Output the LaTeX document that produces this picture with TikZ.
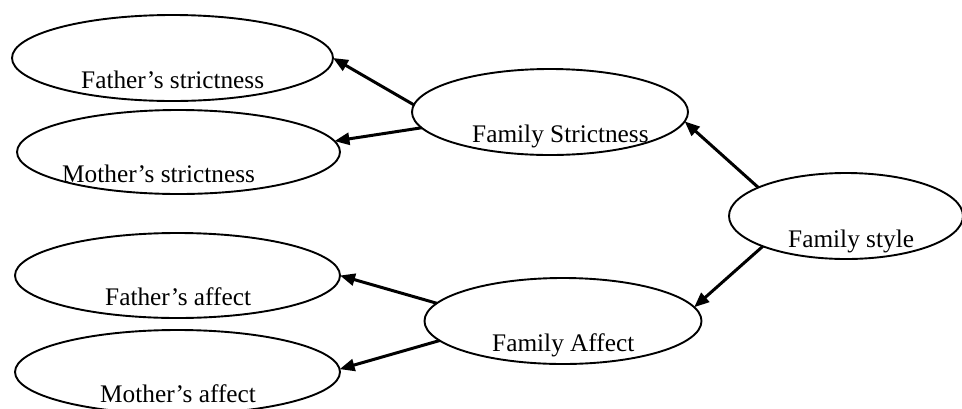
\documentclass[tikz,border=0pt]{standalone}
\usepackage{fontspec}
\setmainfont{Liberation Serif}
\usetikzlibrary{shapes.geometric,arrows.meta}
\begin{document}
\begin{tikzpicture}[x=1pt,y=-1pt,
  ell/.style={draw=black,line width=1.9pt,ellipse,inner sep=0pt,outer sep=0pt},
  lbl/.style={anchor=base west,inner sep=0pt,font=\fontsize{25.3}{30}\selectfont},
  arr/.style={line width=3pt,-{Triangle[length=15pt,width=12pt]}}]
\useasboundingbox (0,0) rectangle (962,408);
\fill[white] (0,0) rectangle (962,408);
% ellipses
\node[ell,minimum width=321pt,minimum height=86pt] (fst) at (172.5,58) {};
\node[ell,minimum width=323pt,minimum height=84pt] (mst) at (178.5,152) {};
\node[ell,minimum width=276pt,minimum height=86pt] (fs) at (550,112) {};
\node[ell,minimum width=234pt,minimum height=86pt] (fsty) at (846,216) {};
\node[ell,minimum width=325pt,minimum height=85pt] (ffa) at (177.5,275.5) {};
\node[ell,minimum width=325pt,minimum height=84pt] (mfa) at (177.5,372) {};
\node[ell,minimum width=277pt,minimum height=86pt] (fa) at (563,321) {};
% labels
\node[lbl] (tfst) at (81,88) {Father’s strictness};
\node[lbl] (tmst) at (62,182) {Mother’s strictness};
\node[lbl] (tfs) at (472,142) {Family Strictness};
\node[lbl] (tfsty) at (788,247) {Family style};
\node[lbl] (tffa) at (105,305) {Father’s affect};
\node[lbl] (tmfa) at (100,402) {Mother’s affect};
\node[lbl] (tfa) at (492,351) {Family Affect};
% arrows
\draw[arr] (fs.177) -- (fst.east);
\draw[arr] (fs.187) -- (mst.4);
\draw[arr] (fsty.162) -- (fs.356);
\draw[arr] (fsty.200) -- (fa.6);
\draw[arr] (fa.172) -- (ffa.east);
\draw[arr] (fa.189) -- (mfa.1);
\end{tikzpicture}
\end{document}
